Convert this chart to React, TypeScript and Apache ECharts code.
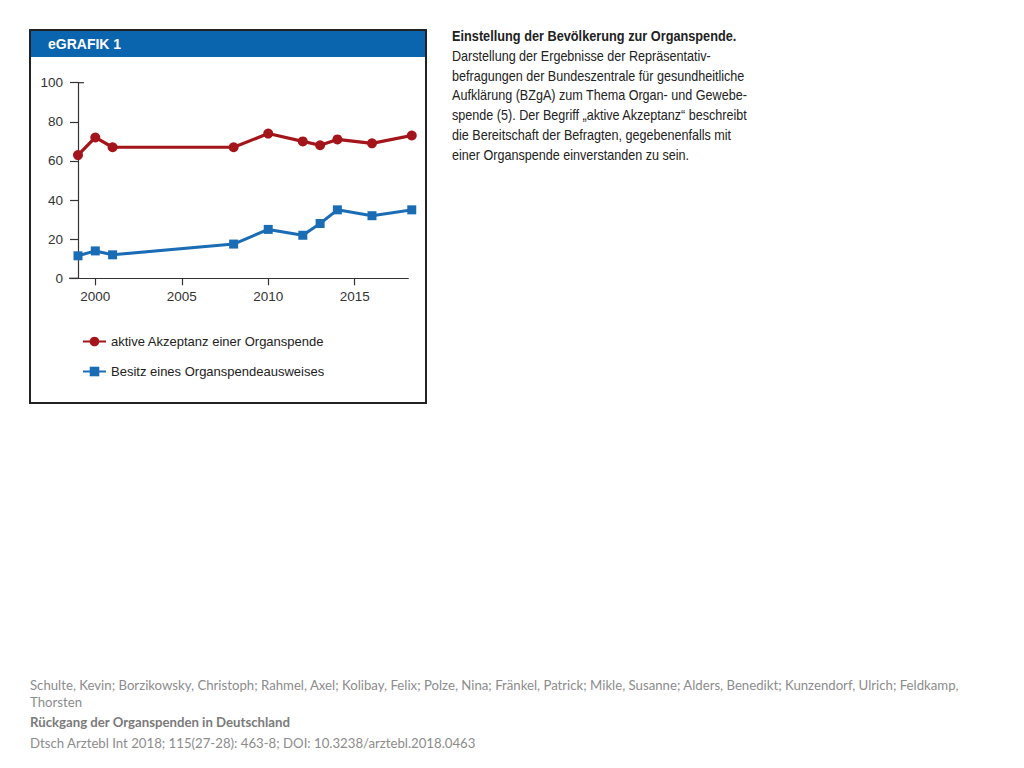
import React, { useEffect, useRef } from "react";
import * as echarts from "echarts";

const years = [1999, 2000, 2001, 2008, 2010, 2012, 2013, 2014, 2016, 2018.3];
const akzeptanz = [63, 72, 67, 67, 74, 70, 68, 71, 69, 73];
const besitz = [11.5, 14, 12, 17.5, 25, 22, 28, 35, 32, 35];
const seriesNames = ["aktive Akzeptanz einer Organspende", "Besitz eines Organspendeausweises"];
const yTicks = [0, 20, 40, 60, 80, 100];
const xTicks = [2000, 2005, 2010, 2015];

const headerText = "eGRAFIK 1";
const descTitle = "Einstellung der Bevölkerung zur Organspende.";
const descLines = [
  "Darstellung der Ergebnisse der Repräsentativ-",
  "befragungen der Bundeszentrale für gesundheitliche",
  "Aufklärung (BZgA) zum Thema Organ- und Gewebe-",
  "spende (5). Der Begriff „aktive Akzeptanz“ beschreibt",
  "die Bereitschaft der Befragten, gegebenenfalls mit",
  "einer Organspende einverstanden zu sein.",
];
const footerAuthors1 =
  "Schulte, Kevin; Borzikowsky, Christoph; Rahmel, Axel; Kolibay, Felix; Polze, Nina; Fränkel, Patrick; Mikle, Susanne; Alders, Benedikt; Kunzendorf, Ulrich; Feldkamp,";
const footerAuthors2 = "Thorsten";
const footerTitle = "Rückgang der Organspenden in Deutschland";
const footerCite = "Dtsch Arztebl Int 2018; 115(27-28): 463-8; DOI: 10.3238/arztebl.2018.0463";

const RED = "#a3151b";
const BLUE = "#1a6cb5";
const FONT = "Liberation Sans";

export default function App() {
  const ref = useRef<HTMLDivElement>(null);
  useEffect(() => {
    if (!ref.current) return;
    const chart = echarts.init(ref.current, null, { renderer: "svg" });
    const descGraphics: any[] = descLines.map((t, i) => ({
      type: "text",
      x: 452,
      y: 49 + i * 19.8,
      scaleX: 0.9,
      style: { text: t, fill: "#222", font: `14px '${FONT}'`, verticalAlign: "top" },
    }));
    chart.setOption({
      animation: false,
      backgroundColor: "#ffffff",
      grid: { left: 78, top: 82.7, width: 330.3, height: 195.6, containLabel: false },
      xAxis: {
        type: "value",
        min: 1999,
        max: 2018.1,
        interval: 5,
        axisLine: { show: true, lineStyle: { color: "#333", width: 1.2 } },
        axisTick: { show: true, length: 7, lineStyle: { color: "#333", width: 1.2 }, customValues: xTicks },
        axisLabel: {
          color: "#333",
          fontFamily: FONT,
          fontSize: 13.5,
          margin: 11,
          customValues: xTicks,
          formatter: (v: number) => String(v),
        },
        splitLine: { show: false },
      },
      yAxis: {
        type: "value",
        min: 0,
        max: 100,
        interval: 20,
        axisLine: { show: true, onZero: false, lineStyle: { color: "#333", width: 1.2 } },
        axisTick: { show: true, length: 8, lineStyle: { color: "#333", width: 1.2 }, customValues: yTicks },
        axisLabel: { color: "#333", fontFamily: FONT, fontSize: 13.5, margin: 15 },
        splitLine: { show: false },
      },
      legend: {
        orient: "vertical",
        left: 82,
        top: 335,
        padding: 0,
        itemGap: 17,
        itemWidth: 23,
        itemHeight: 12,
        textStyle: { color: "#222", fontFamily: FONT, fontSize: 13 },
        data: seriesNames,
      },
      series: [
        {
          name: seriesNames[0],
          type: "line",
          data: years.map((y, i) => [y, akzeptanz[i]]),
          symbol: "circle",
          symbolSize: 10,
          clip: false,
          lineStyle: { color: RED, width: 3.2 },
          itemStyle: { color: RED },
        },
        {
          name: seriesNames[1],
          type: "line",
          data: years.map((y, i) => [y, besitz[i]]),
          symbol: "rect",
          symbolSize: 9,
          clip: false,
          lineStyle: { color: BLUE, width: 3 },
          itemStyle: { color: BLUE },
        },
      ],
      graphic: [
        {
          type: "rect",
          z: -1,
          shape: { x: 30, y: 30, width: 396, height: 373 },
          style: { fill: "#fff", stroke: "#222", lineWidth: 2 },
        },
        {
          type: "rect",
          shape: { x: 31, y: 31, width: 394, height: 26 },
          style: { fill: "#0a64ae" },
        },
        {
          type: "text",
          x: 48,
          y: 37,
          style: { text: headerText, fill: "#fff", font: `bold 14px '${FONT}'`, verticalAlign: "top" },
        },
        {
          type: "line",
          shape: { x1: 69, y1: 278.3, x2: 78, y2: 278.3 },
          style: { stroke: "#333", lineWidth: 1.2 },
        },
        {
          type: "line",
          shape: { x1: 78, y1: 82.7, x2: 84, y2: 82.7 },
          style: { stroke: "#333", lineWidth: 1.2 },
        },
        {
          type: "text",
          x: 452,
          y: 29,
          scaleX: 0.91,
          style: { text: descTitle, fill: "#222", font: `bold 14px '${FONT}'`, verticalAlign: "top" },
        },
        ...descGraphics,
        {
          type: "text",
          left: 30,
          top: 678,
          style: { text: footerAuthors1, fill: "#8c8c8c", font: "13.2px 'Lato'" },
        },
        {
          type: "text",
          left: 30,
          top: 695,
          style: { text: footerAuthors2, fill: "#8c8c8c", font: "13.2px 'Lato'" },
        },
        {
          type: "text",
          left: 30,
          top: 715,
          style: { text: footerTitle, fill: "#7a7a7a", font: "bold 13.2px 'Lato'" },
        },
        {
          type: "text",
          left: 30,
          top: 736,
          style: { text: footerCite, fill: "#8c8c8c", font: "13.2px 'Lato'" },
        },
      ],
    });
    return () => chart.dispose();
  }, []);
  return (
    <div
      ref={ref}
      style={{ position: "fixed", left: 0, top: 0, width: 1024, height: 768, background: "#fff" }}
    />
  );
}
